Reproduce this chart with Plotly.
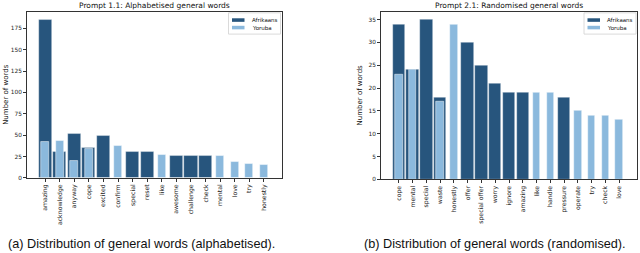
import plotly.graph_objects as go

# ---- Data ----
words_a = ["amazing", "acknowledge", "anyway", "cope", "excited", "confirm", "special", "reset",
           "like", "awesome", "challenge", "check", "mental", "love", "try", "honestly"]
afrikaans_a = [185, 31, 51, 35, 49, None, 31, 31, None, 26, 26, 26, None, None, None, None]
yoruba_a = [42, 43, 20, 34, None, 37, None, None, 27, None, None, None, 26, 19, 16, 15]

words_b = ["cope", "mental", "special", "waste", "honestly", "offer", "special offer", "worry",
           "ignore", "amazing", "like", "handle", "pressure", "operate", "try", "check", "love"]
afrikaans_b = [34, 24, 35, 18, None, 30, 25, 21, 19, 19, None, None, 18, None, None, None, None]
yoruba_b = [23, 24, None, 17, 34, None, None, None, None, None, 19, 19, None, 15, 14, 14, 13]

series_names = ["Afrikaans", "Yoruba"]
titles = ["Prompt 1.1: Alphabetised general words", "Prompt 2.1: Randomised general words"]
captions = ["(a) Distribution of general words (alphabetised).",
            "(b) Distribution of general words (randomised)."]
yticks_a = [0, 25, 50, 75, 100, 125, 150, 175]
yticks_b = [0, 5, 10, 15, 20, 25, 30, 35]

DARK = "rgb(39,85,125)"
LIGHT = "rgb(139,185,221)"
COLORS = [DARK, LIGHT]
FONT = "DejaVu Sans"

W, H = 640, 253


def px(x):
    return x / W


def py(y):
    return 1 - y / H


fig = go.Figure()

panels = [
    dict(words=words_a, af=afrikaans_a, yo=yoruba_a, xa="x", ya="y",
         dom_x=(27, 282), dom_y=(180, 12), yticks=yticks_a, leg_x=228.5),
    dict(words=words_b, af=afrikaans_b, yo=yoruba_b, xa="x2", ya="y2",
         dom_x=(381, 637), dom_y=(181.5, 11.7), yticks=yticks_b, leg_x=584),
]

for p in panels:
    xs_af = [w for w, v in zip(p["words"], p["af"]) if v is not None]
    ys_af = [v for v in p["af"] if v is not None]
    xs_yo = [w for w, v in zip(p["words"], p["yo"]) if v is not None]
    ys_yo = [v for v in p["yo"] if v is not None]
    fig.add_trace(go.Bar(x=xs_af, y=ys_af, name=series_names[0], width=0.9, showlegend=False,
                         marker=dict(color=DARK, line=dict(color="rgba(255,255,255,0.6)", width=0.6)),
                         xaxis=p["xa"], yaxis=p["ya"]))
    fig.add_trace(go.Bar(x=xs_yo, y=ys_yo, name=series_names[1], width=0.55, showlegend=False,
                         marker=dict(color=LIGHT, line=dict(color="rgba(255,255,255,0.8)", width=0.6)),
                         xaxis=p["xa"], yaxis=p["ya"]))

axis_common = dict(showline=True, linecolor="#333333", linewidth=1, mirror=True,
                   ticks="outside", ticklen=3, tickwidth=0.8, tickcolor="#333333",
                   showgrid=False, zeroline=False,
                   tickfont=dict(family=FONT, size=5.8, color="#222222"))

layout = dict(
    width=W, height=H, margin=dict(l=0, r=0, t=0, b=0),
    paper_bgcolor="white", plot_bgcolor="white",
    barmode="overlay", bargap=0, showlegend=False,
    font=dict(family=FONT, color="#222222"),
)

for i, p in enumerate(panels):
    sfx = "" if i == 0 else str(i + 1)
    n = len(p["words"])
    margin = 0.05 * (n - 1 + 0.9)
    layout["xaxis" + sfx] = dict(axis_common, domain=[px(p["dom_x"][0]), px(p["dom_x"][1])],
                                 anchor="y" + sfx, type="category",
                                 categoryorder="array", categoryarray=p["words"],
                                 range=[-0.45 - margin, n - 1 + 0.45 + margin],
                                 tickangle=-90, tickfont=dict(family=FONT, size=6.2, color="#222222"))
    ymax = max(v for v in p["af"] + p["yo"] if v is not None) * 1.05
    layout["yaxis" + sfx] = dict(axis_common, domain=[py(p["dom_y"][0]), py(p["dom_y"][1])],
                                 anchor="x" + sfx, range=[0, ymax],
                                 tickmode="array", tickvals=p["yticks"])

fig.update_layout(**layout)

annotations = []
shapes = []
for i, p in enumerate(panels):
    cx = (p["dom_x"][0] + p["dom_x"][1]) / 2
    annotations.append(dict(text=titles[i], x=px(cx), y=py(5.5), xref="paper", yref="paper",
                            showarrow=False, xanchor="center", yanchor="middle",
                            font=dict(family=FONT, size=7.5, color="#111111")))
    annotations.append(dict(text="Number of words", x=px(p["dom_x"][0] - 21),
                            y=py((p["dom_y"][0] + p["dom_y"][1]) / 2),
                            xref="paper", yref="paper", showarrow=False, textangle=-90,
                            xanchor="center", yanchor="middle",
                            font=dict(family=FONT, size=7, color="#111111")))
    # legend box (drawn manually to match the compact matplotlib legend)
    lx = p["leg_x"]
    shapes.append(dict(type="rect", xref="paper", yref="paper",
                       x0=px(lx), x1=px(lx + 52), y0=py(34.5), y1=py(13),
                       line=dict(color="#d0d0d0", width=0.8), fillcolor="rgba(255,255,255,0.8)"))
    for k, (name, col) in enumerate(zip(series_names, COLORS)):
        cy = 20.3 + k * 7.6
        shapes.append(dict(type="rect", xref="paper", yref="paper",
                           x0=px(lx + 3.5), x1=px(lx + 16), y0=py(cy + 1.8), y1=py(cy - 1.8),
                           line=dict(width=0), fillcolor=col))
        annotations.append(dict(text=name, x=px(lx + 21), y=py(cy + 0.2), xref="paper", yref="paper",
                                showarrow=False, xanchor="left", yanchor="middle",
                                font=dict(family=FONT, size=5.5, color="#111111")))

cap_x = [141, 495]
for i in range(2):
    annotations.append(dict(text=captions[i], x=px(cap_x[i]), y=py(247), xref="paper", yref="paper",
                            showarrow=False, xanchor="center", yanchor="middle", borderpad=0,
                            font=dict(family="Liberation Sans", size=12.7, color="#111111")))
fig.update_layout(annotations=annotations, shapes=shapes)

fig.write_html("out.html", config={"displayModeBar": False},
               post_script="document.body.style.margin='0px';document.body.style.overflow='hidden';")
